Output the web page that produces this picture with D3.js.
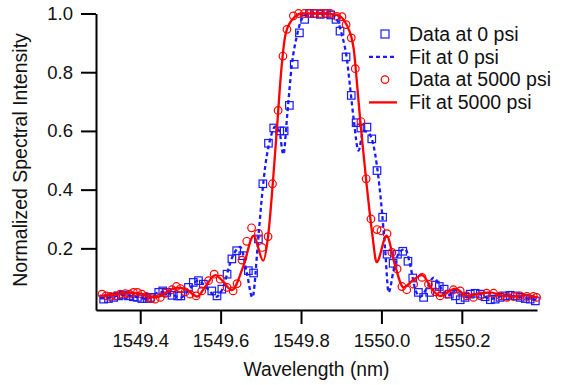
<!DOCTYPE html>
<html>
<head>
<meta charset="utf-8">
<script src="https://cdn.jsdelivr.net/npm/d3@7"></script>
<style>
  html, body { margin: 0; padding: 0; background: #fff; }
  svg { display: block; }
  text { font-family: "Liberation Sans", Arial, sans-serif; fill: #111; }
</style>
</head>
<body>
<svg id="chart" width="562" height="385"></svg>
<script>
// ---- data ----
const xTicks = [1549.4, 1549.6, 1549.8, 1550.0, 1550.2];
const yTicks = [0.2, 0.4, 0.6, 0.8, 1.0];
const legendLabels = ["Data at 0 psi", "Fit at 0 psi", "Data at 5000 psi", "Fit at 5000 psi"];

// Data at 0 psi: [wavelength, intensity]
const data0 = [
  [1549.309,0.027],[1549.321,0.029],[1549.334,0.033],[1549.346,0.038],[1549.358,0.041],
  [1549.371,0.038],[1549.383,0.035],[1549.393,0.033],[1549.404,0.029],[1549.417,0.029],
  [1549.425,0.033],[1549.446,0.050],[1549.456,0.055],[1549.466,0.050],[1549.479,0.040],
  [1549.493,0.038],[1549.501,0.038],[1549.520,0.067],[1549.532,0.084],[1549.545,0.090],
  [1549.557,0.078],[1549.578,0.055],[1549.591,0.038],[1549.603,0.061],[1549.616,0.112],
  [1549.628,0.164],[1549.640,0.192],[1549.655,0.175],[1549.669,0.124],[1549.682,0.116],
  [1549.694,0.232],[1549.705,0.420],[1549.719,0.558],[1549.732,0.610],[1549.747,0.600],
  [1549.758,0.600],[1549.771,0.687],[1549.783,0.827],[1549.796,0.934],[1549.809,0.980],
  [1549.821,1.000],[1549.833,1.000],[1549.848,0.997],[1549.863,1.000],[1549.874,0.995],
  [1549.887,0.980],[1549.897,0.940],[1549.912,0.852],[1549.925,0.721],[1549.937,0.628],
  [1549.949,0.610],[1549.964,0.613],[1549.976,0.573],[1549.989,0.465],[1550.003,0.306],
  [1550.014,0.180],[1550.029,0.149],[1550.040,0.180],[1550.053,0.190],[1550.066,0.156],
  [1550.078,0.099],[1550.092,0.050],[1550.105,0.033],[1550.120,0.050],[1550.134,0.075],
  [1550.144,0.070],[1550.156,0.061],[1550.169,0.044],[1550.184,0.038],[1550.196,0.025],
  [1550.208,0.033],[1550.221,0.044],[1550.233,0.047],[1550.246,0.044],[1550.258,0.035],
  [1550.271,0.025],[1550.283,0.027],[1550.295,0.033],[1550.308,0.038],[1550.320,0.040],
  [1550.333,0.038],[1550.345,0.033],[1550.358,0.029],[1550.370,0.027],[1550.383,0.021]
];

// Fit at 0 psi
const fit0 = [
  [1549.300,0.030],[1549.325,0.033],[1549.355,0.042],[1549.388,0.035],[1549.415,0.028],
  [1549.450,0.052],[1549.475,0.045],[1549.500,0.032],[1549.522,0.060],[1549.544,0.090],
  [1549.569,0.060],[1549.589,0.035],[1549.604,0.060],[1549.629,0.170],[1549.649,0.205],
  [1549.665,0.118],[1549.679,0.033],[1549.694,0.240],[1549.703,0.380],[1549.711,0.480],
  [1549.723,0.570],[1549.736,0.615],[1549.746,0.600],[1549.756,0.520],[1549.766,0.660],
  [1549.777,0.823],[1549.790,0.926],[1549.806,0.990],[1549.823,1.000],[1549.848,1.000],
  [1549.873,1.000],[1549.885,0.990],[1549.902,0.926],[1549.914,0.846],[1549.922,0.750],
  [1549.931,0.640],[1549.943,0.533],[1549.955,0.600],[1549.970,0.590],[1549.989,0.480],
  [1550.001,0.330],[1550.009,0.200],[1550.018,0.050],[1550.030,0.123],[1550.042,0.180],
  [1550.059,0.198],[1550.072,0.140],[1550.084,0.061],[1550.097,0.035],[1550.111,0.060],
  [1550.130,0.100],[1550.146,0.070],[1550.163,0.038],[1550.188,0.060],[1550.211,0.035],
  [1550.241,0.045],[1550.271,0.028],[1550.308,0.040],[1550.345,0.033],[1550.387,0.025]
];

// Data at 5000 psi
const data5000 = [
  [1549.305,0.044],[1549.315,0.038],[1549.325,0.036],[1549.338,0.038],[1549.350,0.044],
  [1549.363,0.046],[1549.373,0.044],[1549.383,0.050],[1549.393,0.050],[1549.404,0.044],
  [1549.415,0.036],[1549.427,0.029],[1549.437,0.027],[1549.450,0.033],[1549.462,0.047],
  [1549.479,0.059],[1549.490,0.070],[1549.500,0.063],[1549.512,0.052],[1549.524,0.044],
  [1549.539,0.038],[1549.553,0.055],[1549.570,0.090],[1549.584,0.112],[1549.599,0.095],
  [1549.616,0.067],[1549.631,0.055],[1549.641,0.080],[1549.653,0.160],[1549.665,0.224],
  [1549.677,0.270],[1549.694,0.251],[1549.703,0.203],[1549.718,0.240],[1549.729,0.420],
  [1549.743,0.670],[1549.755,0.855],[1549.765,0.946],[1549.781,0.992],[1549.794,1.000],
  [1549.808,1.000],[1549.821,1.000],[1549.834,1.000],[1549.848,1.000],[1549.860,1.000],
  [1549.873,1.000],[1549.889,0.990],[1549.902,0.989],[1549.912,0.962],[1549.925,0.917],
  [1549.935,0.812],[1549.949,0.632],[1549.962,0.437],[1549.974,0.300],[1549.989,0.264],
  [1549.999,0.260],[1550.014,0.250],[1550.026,0.186],[1550.039,0.130],[1550.051,0.070],
  [1550.063,0.059],[1550.080,0.078],[1550.101,0.101],[1550.117,0.078],[1550.134,0.052],
  [1550.146,0.038],[1550.163,0.044],[1550.179,0.059],[1550.196,0.055],[1550.212,0.038],
  [1550.229,0.033],[1550.246,0.038],[1550.262,0.047],[1550.279,0.047],[1550.296,0.038],
  [1550.312,0.033],[1550.329,0.036],[1550.345,0.038],[1550.362,0.036],[1550.378,0.036],
  [1550.386,0.033]
];

// Fit at 5000 psi
const fit5000 = [
  [1549.300,0.038],[1549.325,0.040],[1549.355,0.045],[1549.383,0.048],[1549.405,0.045],
  [1549.425,0.033],[1549.445,0.035],[1549.465,0.050],[1549.492,0.066],[1549.517,0.058],
  [1549.542,0.036],[1549.562,0.070],[1549.587,0.109],[1549.604,0.090],[1549.628,0.058],
  [1549.657,0.141],[1549.682,0.243],[1549.706,0.158],[1549.718,0.240],[1549.730,0.425],
  [1549.740,0.607],[1549.752,0.823],[1549.761,0.926],[1549.777,0.977],[1549.802,1.000],
  [1549.848,1.000],[1549.889,0.995],[1549.914,0.960],[1549.931,0.880],[1549.940,0.750],
  [1549.949,0.610],[1549.963,0.420],[1549.978,0.240],[1549.988,0.153],[1550.013,0.243],
  [1550.034,0.141],[1550.055,0.067],[1550.077,0.090],[1550.101,0.109],[1550.126,0.061],
  [1550.146,0.038],[1550.184,0.063],[1550.213,0.038],[1550.241,0.045],[1550.271,0.050],
  [1550.296,0.040],[1550.328,0.036],[1550.358,0.040],[1550.387,0.033]
];

// ---- drawing ----
const svg = d3.select("#chart");
const blue = "#1a1aff", red = "#ff0000";
const plotL = 96, plotR = 537, plotT = 13.5, plotB = 310;

const x = d3.scaleLinear().domain([1549.29, 1550.387]).range([plotL, plotR]);
const y = d3.scaleLinear().domain([-0.01, 1.0]).range([plotB, plotT]);

// axes
const xAxis = d3.axisBottom(x).tickValues(xTicks).tickFormat(d3.format(".1f"))
  .tickSizeInner(14).tickSizeOuter(0).tickPadding(10);
const yAxis = d3.axisLeft(y).tickValues(yTicks).tickFormat(d3.format(".1f"))
  .tickSizeInner(15).tickSizeOuter(0).tickPadding(8);

const gx = svg.append("g").attr("transform", `translate(0,${plotB})`).call(xAxis);
const gy = svg.append("g").attr("transform", `translate(${plotL},0)`).call(yAxis);
[gx, gy].forEach(g => {
  g.select(".domain").attr("stroke", "#000").attr("stroke-width", 2);
  g.selectAll(".tick line").attr("stroke", "#000").attr("stroke-width", 2);
  g.selectAll(".tick text").attr("font-size", 18.5)
    .attr("font-family", "Liberation Sans, Arial, sans-serif").attr("fill", "#111");
});

// axis titles
svg.append("text").attr("x", (plotL + plotR) / 2).attr("y", 376)
  .attr("text-anchor", "middle").attr("font-size", 19.3).text("Wavelength (nm)");
svg.append("text").attr("transform", `translate(27,160) rotate(-90)`)
  .attr("text-anchor", "middle").attr("font-size", 19.5).text("Normalized Spectral Intensity");

// marks
const sq = 7.5;
svg.append("g").selectAll("rect").data(data0).join("rect")
  .attr("x", d => x(d[0]) - sq / 2).attr("y", d => y(d[1]) - sq / 2)
  .attr("width", sq).attr("height", sq)
  .attr("fill", "none").attr("stroke", blue).attr("stroke-width", 1.2);

svg.append("g").selectAll("circle").data(data5000).join("circle")
  .attr("cx", d => x(d[0])).attr("cy", d => y(d[1])).attr("r", 3.8)
  .attr("fill", "none").attr("stroke", red).attr("stroke-width", 1.2);

const line = d3.line().x(d => x(d[0])).y(d => y(d[1])).curve(d3.curveMonotoneX);
svg.append("path").datum(fit0).attr("d", line)
  .attr("fill", "none").attr("stroke", blue).attr("stroke-width", 2.3)
  .attr("stroke-dasharray", "4,3");
svg.append("path").datum(fit5000).attr("d", line)
  .attr("fill", "none").attr("stroke", red).attr("stroke-width", 2.3);

// legend
const lg = svg.append("g");
const rows = [34, 56.8, 79.6, 102.4];
const symX = 385, txtX = 409;
lg.append("rect").attr("x", symX - 4).attr("y", rows[0] - 4).attr("width", 8).attr("height", 8)
  .attr("fill", "none").attr("stroke", blue).attr("stroke-width", 1.2);
lg.append("line").attr("x1", 369).attr("x2", 397).attr("y1", rows[1]).attr("y2", rows[1])
  .attr("stroke", blue).attr("stroke-width", 2.3).attr("stroke-dasharray", "4,3");
lg.append("circle").attr("cx", symX).attr("cy", rows[2]).attr("r", 3.8)
  .attr("fill", "none").attr("stroke", red).attr("stroke-width", 1.2);
lg.append("line").attr("x1", 369).attr("x2", 397).attr("y1", rows[3]).attr("y2", rows[3])
  .attr("stroke", red).attr("stroke-width", 2.3);
lg.selectAll("text.lab").data(legendLabels).join("text").attr("class", "lab")
  .attr("x", txtX).attr("y", (d, i) => rows[i]).attr("dy", "0.35em")
  .attr("font-size", 19.5).text(d => d);
</script>
</body>
</html>
